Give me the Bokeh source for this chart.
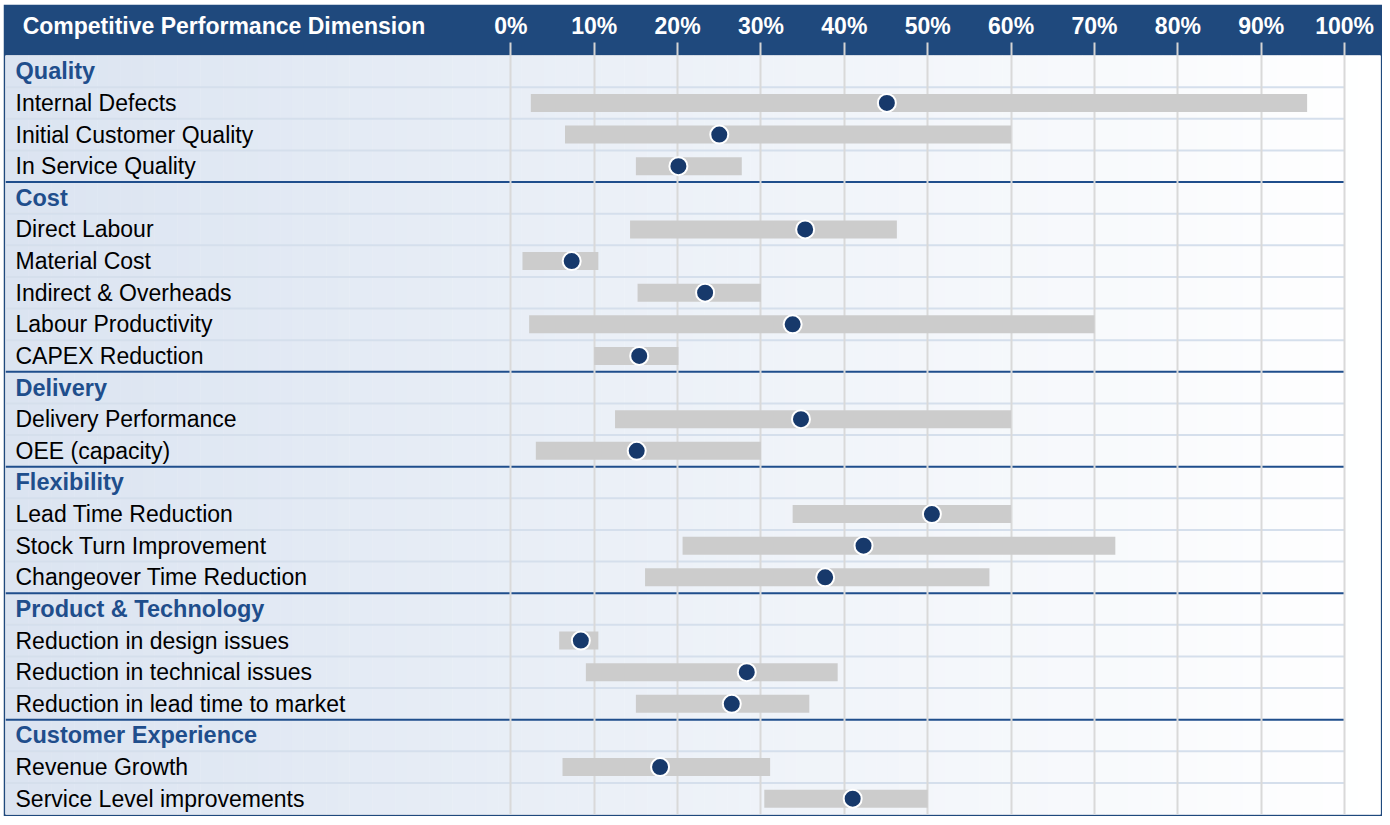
import numpy as np
from bokeh.plotting import figure
from bokeh.models import (Range1d, FixedTicker, PrintfTickFormatter,
                          ColumnDataSource, LinearAxis, CustomJSTickFormatter)
from bokeh.embed import file_html
from bokeh.resources import INLINE
from bokeh.core.properties import value

# ---------------- data ----------------
groups = ["Quality", "Cost", "Delivery", "Flexibility",
          "Product & Technology", "Customer Experience"]

items = ["Internal Defects", "Initial Customer Quality", "In Service Quality",
         "Direct Labour", "Material Cost", "Indirect & Overheads",
         "Labour Productivity", "CAPEX Reduction",
         "Delivery Performance", "OEE (capacity)",
         "Lead Time Reduction", "Stock Turn Improvement", "Changeover Time Reduction",
         "Reduction in design issues", "Reduction in technical issues",
         "Reduction in lead time to market",
         "Revenue Growth", "Service Level improvements"]

item_group = ["Quality", "Quality", "Quality",
              "Cost", "Cost", "Cost", "Cost", "Cost",
              "Delivery", "Delivery",
              "Flexibility", "Flexibility", "Flexibility",
              "Product & Technology", "Product & Technology", "Product & Technology",
              "Customer Experience", "Customer Experience"]

low = [2.4, 6.5, 15.0,
       14.3, 1.4, 15.2, 2.2, 10.0,
       12.5, 3.0,
       33.8, 20.6, 16.1,
       5.8, 9.0, 15.0,
       6.2, 30.4]

high = [95.5, 60.0, 27.7,
        46.3, 10.5, 30.0, 70.0, 20.1,
        60.0, 30.0,
        60.0, 72.5, 57.4,
        10.5, 39.2, 35.8,
        31.1, 50.0]

point = [45.1, 25.0, 20.1,
         35.3, 7.3, 23.3, 33.8, 15.4,
         34.8, 15.1,
         50.5, 42.3, 37.7,
         8.4, 28.3, 26.5,
         17.9, 41.0]

ticks = [0, 10, 20, 30, 40, 50, 60, 70, 80, 90, 100]
title_text = "Competitive Performance Dimension"

# ---------------- row layout ----------------
row_label, row_is_header = [], []
item_row = {}
group_start = []
for g in groups:
    group_start.append(len(row_label))
    row_label.append(g)
    row_is_header.append(True)
    for it, ig in zip(items, item_group):
        if ig == g:
            item_row[it] = len(row_label)
            row_label.append(it)
            row_is_header.append(False)
n_rows = len(row_label)
row_y = [i + 0.5 for i in range(n_rows)]

W, H = 1379, 812
HEADER = 51
X0, X1 = -60.6, 104.3
LABEL_X = -59.4
TITLE_X = -34.4   # centre of the header title, in axis units

p = figure(width=W, height=H,
           x_range=Range1d(X0, X1), y_range=Range1d(n_rows, 0),
           x_axis_location="above", y_axis_location=None,
           toolbar_location=None, output_backend="svg",
           min_border_left=2, min_border_right=2, min_border_bottom=2,
           min_border_top=HEADER,
           border_fill_color="#1f497d", outline_line_color=None,
           background_fill_color="white")
p.margin = (4, 0, 0, 3)

# gradient background
edges = np.linspace(X0, X1, 121)
c0 = np.array([0xdb, 0xe4, 0xf1])
c1 = np.array([0xff, 0xff, 0xff])
cols = []
for k in range(120):
    f = k / 119
    c = (c0 * (1 - f) + c1 * f).round().astype(int)
    cols.append("#%02x%02x%02x" % tuple(c))
bg = p.quad(left=edges[:-1], right=edges[1:] + 0.05, bottom=n_rows, top=0,
            fill_color=cols, line_color=None)
bg.level = "image"

# light row separators
light_y = [i for i in range(1, n_rows) if i not in group_start]
ls = p.segment(x0=[X0] * len(light_y), x1=[100] * len(light_y),
               y0=light_y, y1=light_y, line_color="#d5dfec", line_width=2)
ls.level = "image"

# group separators
gy = group_start[1:]
gs = p.segment(x0=[X0] * len(gy), x1=[100] * len(gy), y0=gy, y1=gy,
               line_color="#1f4e8c", line_width=2)
gs.level = "image"

# inner header axis: only the short grey tick stubs
ax = p.xaxis[0]
ax.ticker = FixedTicker(ticks=ticks)
ax.formatter = CustomJSTickFormatter(code="return ''")
ax.major_label_standoff = 0
ax.axis_line_color = None
ax.major_tick_line_color = "#d4d4d4"
ax.major_tick_line_width = 2
ax.major_tick_out = 13
ax.major_tick_in = 0
ax.minor_tick_line_color = None

# outer header axis: percentage labels and the dimension title
ax2 = LinearAxis(ticker=FixedTicker(ticks=[TITLE_X] + ticks),
                 formatter=PrintfTickFormatter(format="%d%%"),
                 major_label_overrides={TITLE_X: title_text})
ax2.major_label_text_color = "white"
ax2.major_label_text_font = "Liberation Sans"
ax2.major_label_text_font_style = "bold"
ax2.major_label_text_font_size = "23px"
ax2.axis_line_color = None
ax2.major_tick_line_color = None
ax2.major_tick_out = 0
ax2.major_tick_in = 0
ax2.minor_tick_line_color = None
ax2.major_label_standoff = 4
p.add_layout(ax2, "above")

p.xgrid.ticker = FixedTicker(ticks=ticks)
p.xgrid.grid_line_color = "#d9d9d9"
p.xgrid.grid_line_width = 2
p.ygrid.grid_line_color = None

# bars and points
bar_src = ColumnDataSource(dict(
    y=[item_row[it] + 0.5 for it in items], left=low, right=high, pt=point))
p.hbar(y="y", left="left", right="right", height=0.57, source=bar_src,
       fill_color="#cccccc", line_color=None)
p.scatter(x="pt", y="y", size=18, source=bar_src, fill_color="#17396b",
          line_color="white", line_width=2)

# row labels
hdr_y = [y for y, h in zip(row_y, row_is_header) if h]
hdr_t = [t for t, h in zip(row_label, row_is_header) if h]
itm_y = [y for y, h in zip(row_y, row_is_header) if not h]
itm_t = [t for t, h in zip(row_label, row_is_header) if not h]
p.text(x=[LABEL_X] * len(hdr_y), y=hdr_y, text=hdr_t,
       text_font=value("Liberation Sans"), text_font_style="bold",
       text_font_size="23.5px", text_color="#1f4e8c", text_baseline="middle")
p.text(x=[LABEL_X] * len(itm_y), y=itm_y, text=itm_t,
       text_font=value("Liberation Sans"),
       text_font_size="23px", text_color="#000000", text_baseline="middle")

open("out.html", "w").write(file_html(p, INLINE))
